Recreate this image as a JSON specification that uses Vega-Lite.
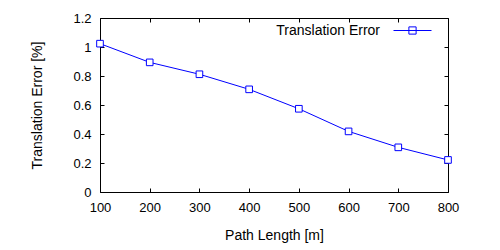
{
  "$schema": "https://vega.github.io/schema/vega-lite/v6.json",
  "width": 348,
  "height": 174,
  "autosize": {"type": "none"},
  "padding": {"left": 100, "top": 18, "right": 52, "bottom": 58},
  "background": "white",
  "config": {
    "font": "Liberation Sans",
    "view": {"stroke": "black", "strokeWidth": 1},
    "axis": {
      "grid": false,
      "domain": false,
      "tickColor": "black",
      "tickSize": -4,
      "labelColor": "black",
      "labelFontSize": 13,
      "labelFont": "Liberation Sans",
      "titleFont": "Liberation Sans",
      "titleFontSize": 14,
      "titleFontWeight": "normal",
      "titleColor": "black"
    }
  },
  "data": {
    "values": [
      {"length": 100, "error": 1.023, "series": "Translation Error"},
      {"length": 200, "error": 0.894, "series": "Translation Error"},
      {"length": 300, "error": 0.812, "series": "Translation Error"},
      {"length": 400, "error": 0.708, "series": "Translation Error"},
      {"length": 500, "error": 0.574, "series": "Translation Error"},
      {"length": 600, "error": 0.418, "series": "Translation Error"},
      {"length": 700, "error": 0.308, "series": "Translation Error"},
      {"length": 800, "error": 0.221, "series": "Translation Error"}
    ]
  },
  "layer": [
    {
      "mark": {"type": "line", "strokeWidth": 1, "point": {"shape": "square", "filled": false, "size": 44, "strokeWidth": 1, "fill": "white"}},
      "encoding": {
        "x": {
          "field": "length", "type": "quantitative",
          "scale": {"domain": [100, 800], "nice": false},
          "axis": {"orient": "bottom", "values": [100, 200, 300, 400, 500, 600, 700, 800], "labelPadding": 13, "title": "Path Length [m]", "titlePadding": 14, "labelFlush": false}
        },
        "y": {
          "field": "error", "type": "quantitative",
          "scale": {"domain": [0, 1.2], "nice": false},
          "axis": {"orient": "left", "values": [0, 0.2, 0.4, 0.6, 0.8, 1, 1.2], "format": "~g", "labelPadding": 13, "title": "Translation Error [%]", "titlePadding": 28}
        },
        "color": {
          "field": "series", "type": "nominal",
          "scale": {"range": ["#0000ff"]},
          "legend": {
            "title": null,
            "orient": "none",
            "legendX": 293,
            "legendY": -7,
            "padding": 0,
            "symbolType": "M-1,0L1,0M-0.19,-0.19L0.19,-0.19L0.19,0.19L-0.19,0.19Z",
            "symbolSize": 1444,
            "symbolStrokeWidth": 1,
            "symbolFillColor": "white",
            "labelAlign": "right",
            "labelOffset": -52,
            "labelFontSize": 14,
            "labelColor": "black",
            "labelFont": "Liberation Sans"
          }
        }
      }
    },
    {
      "mark": {"type": "point", "opacity": 0},
      "encoding": {
        "x": {"field": "length", "type": "quantitative", "scale": {"domain": [100, 800], "nice": false},
          "axis": {"orient": "top", "values": [100, 200, 300, 400, 500, 600, 700, 800], "labels": false, "title": null}},
        "y": {"field": "error", "type": "quantitative", "scale": {"domain": [0, 1.2], "nice": false},
          "axis": {"orient": "right", "values": [0, 0.2, 0.4, 0.6, 0.8, 1, 1.2], "labels": false, "title": null}}
      }
    }
  ],
  "resolve": {"axis": {"x": "independent", "y": "independent"}}
}
